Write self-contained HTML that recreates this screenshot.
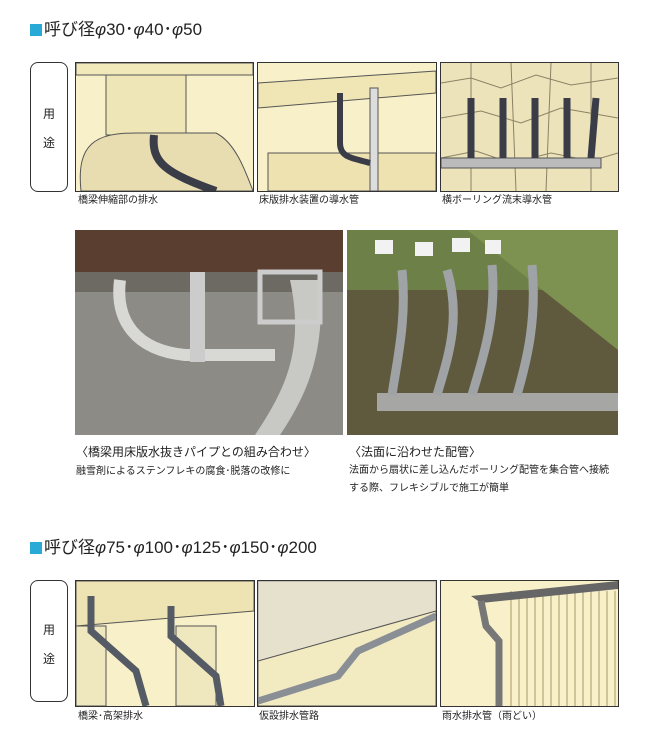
<!DOCTYPE html>
<html><head><meta charset="utf-8"><style>
body{margin:0;width:650px;height:750px;background:#fff;position:relative;overflow:hidden;font-family:"Liberation Sans","Noto Sans CJK JP",sans-serif;color:#222}
.a{position:absolute}
.h{font-size:17px;line-height:20px}
.sq{display:inline-block;width:12px;height:12px;background:#29a9d6;margin-right:2px;vertical-align:-1px}
.yb{position:absolute;border:1px solid #333;border-radius:8px;width:36px;font-size:12px;text-align:center}
.ill{position:absolute;border:1px solid #333;background:#f7f0c8;overflow:hidden}
.cap{position:absolute;font-size:10px;line-height:12px}
.c2{position:absolute;font-size:12px;line-height:14px}
.c3{position:absolute;font-size:10px;line-height:18px}
</style></head><body>
<div class="a h" style="left:30px;top:20px"><span class="sq"></span>呼び径<i>φ</i>30･<i>φ</i>40･<i>φ</i>50</div>
<div class="yb" style="left:30px;top:62px;height:128px"><div style="margin-top:42px">用</div><div style="margin-top:12px">途</div></div>
<div class="ill" style="left:75px;top:62px;width:177px;height:128px">
<svg width="177" height="128"><rect x="0" y="0" width="177" height="12" fill="#f2e9bb" stroke="#555"/><rect x="30" y="12" width="80" height="60" fill="#efe6b8" stroke="#555"/><path d="M5 128 C0 80 20 70 60 70 L140 70 C160 80 170 110 177 128Z" fill="#e8ddb0" stroke="#555"/><path d="M78 72 C75 100 90 110 140 128" stroke="#3a3d48" stroke-width="8" fill="none"/></svg></div>
<div class="ill" style="left:257px;top:62px;width:178px;height:128px">
<svg width="178" height="128"><path d="M0 20 L178 8 L178 30 L0 45Z" fill="#efe5b5" stroke="#555"/><rect x="10" y="90" width="168" height="38" fill="#eee2b0" stroke="#555"/><rect x="112" y="25" width="8" height="103" fill="#ddd" stroke="#555"/><path d="M82 30 L82 80 C82 95 95 95 112 100" stroke="#3a3d48" stroke-width="6" fill="none"/></svg></div>
<div class="ill" style="left:440px;top:62px;width:177px;height:128px;background:#ece3bb">
<svg width="177" height="128"><g stroke="#8a8264" fill="none"><path d="M0 20 L30 15 L60 25 L95 12 L130 22 L177 15 M0 55 L40 48 L80 60 L120 45 L177 55 M0 95 L35 88 L70 100 L110 90 L150 98 L177 90 M30 0 L30 128 M70 0 L75 128 M110 0 L105 128 M150 0 L150 128"/></g><rect x="0" y="95" width="160" height="10" fill="#bbb" stroke="#555"/><g stroke="#3a3d48" stroke-width="7"><path d="M30 35 L30 95M62 35 L62 95M94 35 L94 95M126 35 L126 95M155 35 L150 95"/></g></svg></div>
<div class="cap" style="left:78px;top:195px">橋梁伸縮部の排水</div>
<div class="cap" style="left:259px;top:195px">床版排水装置の導水管</div>
<div class="cap" style="left:442px;top:195px">横ボーリング流末導水管</div>
<div class="a" style="left:75px;top:230px;width:268px;height:205px;background:#8d8b86;overflow:hidden">
<svg width="268" height="205"><rect width="268" height="42" fill="#5a3e30"/><rect y="42" width="268" height="20" fill="#6d6a64"/><path d="M215 50 C230 120 210 160 180 205 L205 205 C235 160 250 120 245 50Z" fill="#c8c9c5"/><path d="M45 50 C40 90 60 120 110 125 L200 125" stroke="#d8d8d5" stroke-width="12" fill="none"/><rect x="115" y="42" width="15" height="90" fill="#ccc"/><rect x="185" y="42" width="60" height="50" fill="none" stroke="#ccc" stroke-width="5"/></svg></div>
<div class="a" style="left:347px;top:230px;width:271px;height:205px;background:#5f5a3e;overflow:hidden">
<svg width="271" height="205"><rect width="271" height="60" fill="#6c8048"/><path d="M120 0 L271 0 L271 120Z" fill="#7d9150"/><rect x="30" y="163" width="241" height="18" fill="#a6a7a5"/><g stroke="#9fa3a6" stroke-width="9" fill="none"><path d="M55 40 C60 90 50 130 45 165M100 40 C115 90 100 130 90 165M145 35 C150 90 135 130 125 165M185 35 C190 90 180 130 170 165"/></g><g fill="#f2f2f2"><rect x="28" y="10" width="18" height="14"/><rect x="68" y="12" width="18" height="14"/><rect x="105" y="8" width="18" height="14"/><rect x="138" y="10" width="16" height="14"/></g></svg></div>
<div class="c2" style="left:76px;top:445px">〈橋梁用床版水抜きパイプとの組み合わせ〉</div>
<div class="cap" style="left:76px;top:466px">融雪剤によるステンフレキの腐食･脱落の改修に</div>
<div class="c2" style="left:349px;top:445px">〈法面に沿わせた配管〉</div>
<div class="c3" style="left:349px;top:462px">法面から扇状に差し込んだボーリング配管を集合管へ接続<br>する際、フレキシブルで施工が簡単</div>
<div class="a h" style="left:30px;top:538px"><span class="sq"></span>呼び径<i>φ</i>75･<i>φ</i>100･<i>φ</i>125･<i>φ</i>150･<i>φ</i>200</div>
<div class="yb" style="left:30px;top:580px;height:120px"><div style="margin-top:40px">用</div><div style="margin-top:12px">途</div></div>
<div class="ill" style="left:75px;top:580px;width:178px;height:125px">
<svg width="178" height="125"><path d="M0 0 L178 0 L178 30 L0 45Z" fill="#eee3b2" stroke="#555"/><rect x="0" y="45" width="30" height="80" fill="#efe7be" stroke="#555"/><rect x="100" y="45" width="40" height="80" fill="#efe7be" stroke="#555"/><g stroke="#555b64" stroke-width="7" fill="none"><path d="M15 15 L15 50 L60 90 L70 125M95 25 L95 55 L140 95 L145 125"/></g></svg></div>
<div class="ill" style="left:257px;top:580px;width:178px;height:125px">
<svg width="178" height="125"><path d="M0 0 L178 0 L178 30 L0 80Z" fill="#e6e1cc" stroke="#999"/><path d="M0 80 L178 30 L178 125 L0 125Z" fill="#f2eac0" stroke="#555"/><path d="M0 120 L80 95 L100 70 L178 35" stroke="#8a8f96" stroke-width="7" fill="none"/></svg></div>
<div class="ill" style="left:440px;top:580px;width:177px;height:125px">
<svg width="177" height="125"><rect x="0" y="0" width="177" height="125" fill="#f7f0c8"/><g stroke="#a79a6a"><path d="M70 10V125M78 10V125M86 10V125M94 10V125M102 10V125M110 10V125M118 10V125M126 10V125M134 10V125M142 10V125M150 10V125M158 10V125M166 10V125M174 10V125"/></g><path d="M30 15 L177 0 L177 8 L40 22Z" fill="#666"/><path d="M40 20 L45 45 L58 60 L58 125" stroke="#777" stroke-width="7" fill="none"/></svg></div>
<div class="cap" style="left:78px;top:711px">橋梁･高架排水</div>
<div class="cap" style="left:259px;top:711px">仮設排水管路</div>
<div class="cap" style="left:442px;top:711px">雨水排水管（雨どい）</div>
</body></html>
